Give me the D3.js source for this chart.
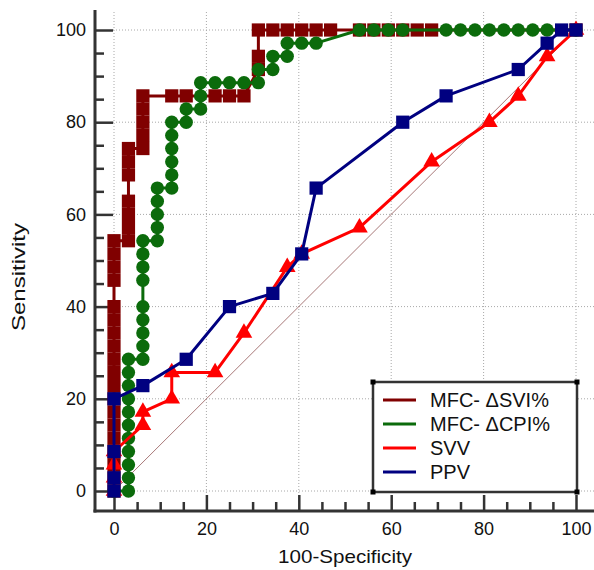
<!DOCTYPE html>
<html>
<head>
<meta charset="utf-8">
<script src="https://d3js.org/d3.v7.min.js"></script>
<style>
  body { margin: 0; background: #fff; }
  svg { display: block; font-family: Arial, "Liberation Sans", sans-serif; }
</style>
</head>
<body>
<div id="chart"></div>
<script>
// ROC points [100-Specificity, Sensitivity]
var mfcSvi = [[0,0],[0,2.86],[0,5.71],[0,8.57],[0,11.43],[0,14.29],[0,17.14],[0,20],[0,22.86],[0,25.71],
  [0,28.57],[0,31.43],[0,34.29],[0,37.14],[0,40],[0,45.71],[0,48.57],[0,51.43],[0,54.29],
  [3.13,54.29],[3.13,57.14],[3.13,60],[3.13,62.86],[3.13,68.57],[3.13,71.43],[3.13,74.29],
  [6.25,74.29],[6.25,77.14],[6.25,80],[6.25,82.86],[6.25,85.71],[12.5,85.71],[15.63,85.71],
  [21.88,85.71],[25,85.71],[28.13,85.71],[31.25,91.43],[31.25,94.29],[31.25,100],[34.38,100],
  [37.5,100],[40.63,100],[43.75,100],[46.88,100],[53.13,100],[56.25,100],[59.38,100],[62.5,100],
  [65.63,100],[68.75,100],[100,100]];

var mfcCpi = [[0,0],[3.13,0],[3.13,2.86],[3.13,5.71],[3.13,8.57],[3.13,11.43],[3.13,14.29],[3.13,17.14],
  [3.13,20],[3.13,22.86],[3.13,25.71],[3.13,28.57],[6.25,28.57],[6.25,31.43],[6.25,34.29],[6.25,37.14],
  [6.25,40],[6.25,45.71],[6.25,48.57],[6.25,51.43],[6.25,54.29],[9.38,54.29],[9.38,57.14],[9.38,60],
  [9.38,62.86],[9.38,65.71],[12.5,65.71],[12.5,68.57],[12.5,71.43],[12.5,74.29],[12.5,77.14],[12.5,80],
  [15.63,80],[15.63,82.86],[18.75,82.86],[18.75,85.71],[18.75,88.57],[21.88,88.57],[25,88.57],
  [28.13,88.57],[31.25,88.57],[31.25,91.43],[34.38,91.43],[34.38,94.29],[37.5,94.29],[37.5,97.14],
  [40.63,97.14],[43.75,97.14],[53.13,100],[56.25,100],[59.38,100],[62.5,100],[71.88,100],[75,100],
  [78.13,100],[81.25,100],[84.38,100],[87.5,100],[90.63,100],[93.75,100],[100,100]];

var svv = [[0,0],[0,2.86],[0,5.71],[0,8.57],[6.25,14.29],[6.25,17.14],[12.5,20],[12.5,25.71],[21.88,25.71],
  [28.13,34.29],[37.5,48.57],[40.63,51.43],[53.13,57.14],[68.75,71.43],[81.25,80],[87.5,85.71],
  [93.75,94.29],[100,100]];

var ppv = [[0,0],[0,2.86],[0,8.57],[0,20],[6.25,22.86],[15.63,28.57],[25,40],[34.38,42.86],[40.63,51.43],
  [43.75,65.71],[62.5,80],[71.88,85.71],[87.5,91.43],[93.75,97.14],[96.88,100],[100,100]];

var seriesNames = ["MFC- \u0394SVI%", "MFC- \u0394CPI%", "SVV", "PPV"];
var seriesColors = ["#800000", "#0b6b0b", "#ff0000", "#000080"];
var seriesMarkers = ["square", "circle", "triangle", "square"];
var majorTicks = [0, 20, 40, 60, 80, 100];
var minorTicks = [5, 10, 15, 25, 30, 35, 45, 50, 55, 65, 70, 75, 85, 90, 95];

var W = 594, H = 570;
var svg = d3.select("#chart").append("svg").attr("width", W).attr("height", H);

var x = d3.scaleLinear().domain([0, 100]).range([114, 576]);
var y = d3.scaleLinear().domain([0, 100]).range([491, 30]);
var axisX = 95, axisY = 511;

// dotted grid
var grid = svg.append("g").attr("stroke", "#a8a8a8").attr("stroke-width", 1).attr("stroke-dasharray", "1,2");
grid.selectAll(".gv").data(majorTicks).enter().append("line")
  .attr("x1", d => x(d)).attr("x2", d => x(d)).attr("y1", 12).attr("y2", 495);
grid.selectAll(".gh").data(majorTicks).enter().append("line")
  .attr("x1", 113).attr("x2", W).attr("y1", d => y(d)).attr("y2", d => y(d));

// diagonal reference
svg.append("line")
  .attr("x1", x(0)).attr("y1", y(0)).attr("x2", x(100)).attr("y2", y(100))
  .attr("stroke", "#a87878").attr("stroke-width", 1);

// axes
function styleAxis(g) {
  g.select(".domain").remove();
  g.selectAll(".tick line").attr("stroke", "#333").attr("stroke-width", 2.5);
  g.selectAll(".tick text").attr("fill", "#111").style("font-size", "18px");
}
svg.append("g").attr("transform", "translate(" + axisX + ",0)")
  .call(d3.axisLeft(y).tickValues(majorTicks).tickSize(-18).tickPadding(9)).call(styleAxis);
svg.append("g").attr("transform", "translate(" + axisX + ",0)")
  .call(d3.axisLeft(y).tickValues(minorTicks).tickSize(-9).tickFormat("")).call(styleAxis);
svg.append("g").attr("transform", "translate(0," + axisY + ")")
  .call(d3.axisBottom(x).tickValues(majorTicks).tickSize(-16).tickPadding(11)).call(styleAxis);
svg.append("g").attr("transform", "translate(0," + axisY + ")")
  .call(d3.axisBottom(x).tickValues(minorTicks).tickSize(-9).tickFormat("")).call(styleAxis);

svg.append("line").attr("x1", axisX).attr("x2", axisX).attr("y1", 10).attr("y2", axisY + 1.5)
  .attr("stroke", "#333").attr("stroke-width", 3);
svg.append("line").attr("x1", axisX - 1.5).attr("x2", W).attr("y1", axisY).attr("y2", axisY)
  .attr("stroke", "#333").attr("stroke-width", 3);

svg.append("text").attr("x", 345).attr("y", 563).attr("text-anchor", "middle")
  .style("font-size", "19px").attr("fill", "#111")
  .attr("textLength", 134).attr("lengthAdjust", "spacingAndGlyphs").text("100-Specificity");
svg.append("text").attr("transform", "translate(25,277) rotate(-90)").attr("text-anchor", "middle")
  .style("font-size", "19px").attr("fill", "#111")
  .attr("textLength", 108).attr("lengthAdjust", "spacingAndGlyphs").text("Sensitivity");

// curves
var line = d3.line().x(d => x(d[0])).y(d => y(d[1]));
var symbolType = { square: d3.symbolSquare, circle: d3.symbolCircle, triangle: d3.symbolTriangle };
var symbolSize = { square: 175, circle: 140, triangle: 120 };
[mfcSvi, mfcCpi, svv, ppv].forEach(function (data, i) {
  var g = svg.append("g");
  g.append("path").datum(data).attr("d", line).attr("fill", "none")
    .attr("stroke", seriesColors[i]).attr("stroke-width", 3).attr("stroke-linejoin", "round");
  var m = seriesMarkers[i];
  g.selectAll("path.mk").data(data).enter().append("path").attr("class", "mk")
    .attr("transform", d => "translate(" + x(d[0]) + "," + y(d[1]) + ")")
    .attr("d", d3.symbol().type(symbolType[m]).size(symbolSize[m]))
    .attr("fill", seriesColors[i]);
});

// legend
var lg = svg.append("g");
lg.append("rect").attr("x", 373).attr("y", 382).attr("width", 204).attr("height", 110)
  .attr("fill", "#fff").attr("stroke", "#333").attr("stroke-width", 2.5);
[[373, 382], [577, 382], [373, 492], [577, 492]].forEach(function (c) {
  lg.append("rect").attr("x", c[0] - 2.5).attr("y", c[1] - 2.5).attr("width", 5).attr("height", 5).attr("fill", "#000");
});
seriesNames.forEach(function (name, i) {
  var ly = 400 + i * 24;
  lg.append("line").attr("x1", 383).attr("x2", 416).attr("y1", ly).attr("y2", ly)
    .attr("stroke", seriesColors[i]).attr("stroke-width", 3);
  lg.append("text").attr("x", 430).attr("y", ly + 7).style("font-size", "20px").attr("fill", "#111").text(name);
});
</script>
</body>
</html>
